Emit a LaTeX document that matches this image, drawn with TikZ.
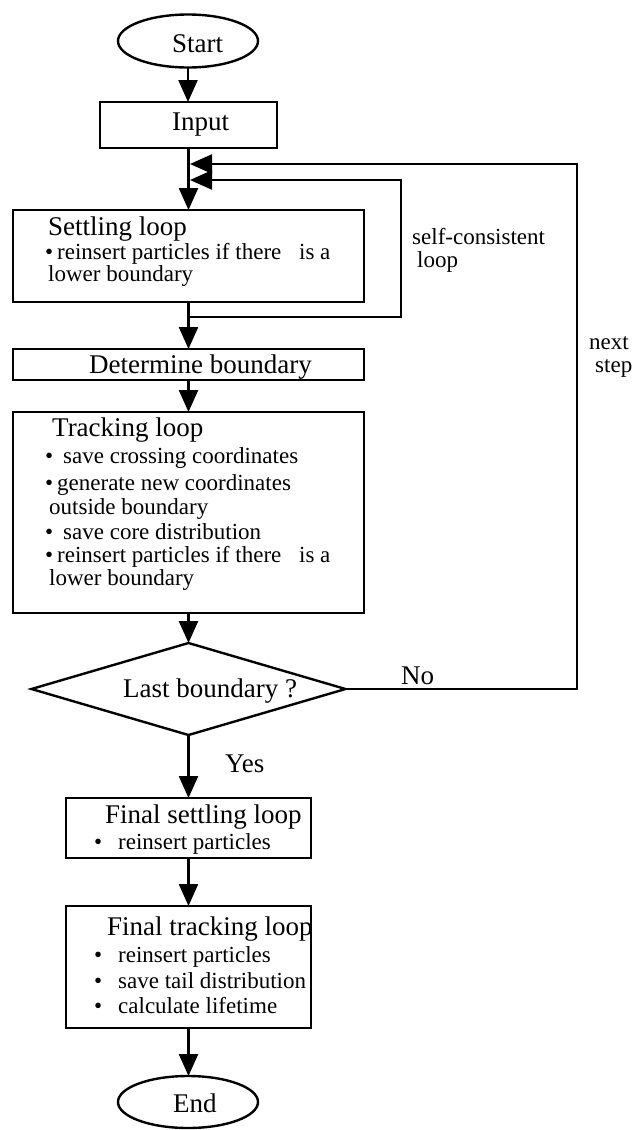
\documentclass[tikz,border=0pt]{standalone}
\usepackage{fontspec}
\setmainfont{Liberation Serif}
\usetikzlibrary{arrows.meta,shapes.geometric}
\begin{document}
\begin{tikzpicture}[x=1pt,y=-1pt,
  lw/.style={line width=2.4pt},
  arr/.style={lw,-{Triangle[length=22pt,width=19pt]}},
  boxnode/.style={draw,lw,rectangle,inner sep=0pt,outer sep=0pt,anchor=north},
  ovalnode/.style={draw,lw,ellipse,inner sep=0pt,outer sep=0pt,minimum width=140pt,minimum height=53pt},
  ttl/.style={font=\fontsize{27}{30}\selectfont,inner sep=0pt,anchor=base west},
  itm/.style={font=\fontsize{23}{26}\selectfont,inner sep=0pt,anchor=base west},
]
\useasboundingbox[fill=white] (0,0) rectangle (642,1130);

% shapes
\node[ovalnode] (start) at (188,41) {};
\node[boxnode,minimum width=177pt,minimum height=46pt] (input) at (188.5,102) {};
\node[boxnode,minimum width=351pt,minimum height=92pt] (settle) at (188.5,210) {};
\node[boxnode,minimum width=351pt,minimum height=31pt] (det) at (188.5,349) {};
\node[boxnode,minimum width=351pt,minimum height=201pt] (track) at (188.5,412) {};
\node[draw,lw,diamond,inner sep=0pt,outer sep=0pt,minimum width=314pt,minimum height=92pt,aspect=3.4] (dia) at (188.5,689) {};
\node[boxnode,minimum width=245pt,minimum height=60pt] (fset) at (188.5,798) {};
\node[boxnode,minimum width=245pt,minimum height=122pt] (ftrack) at (188.5,906) {};
\node[ovalnode,minimum height=52pt] (endn) at (188,1102) {};

% texts
\node[ttl] (tstart) at (172,52) {Start};
\node[ttl] (tinput) at (172,130) {Input};

\node[ttl] (ts0) at (48,235) {Settling loop};
\node[itm] (ts1b) at (45,259) {•};
\node[itm] (ts1) at (57,259) {reinsert particles if there\hspace{12pt} is a};
\node[itm] (ts2) at (48,281) {lower boundary};

\node[ttl] (tdet) at (89,373) {Determine boundary};

\node[ttl] (tt0) at (52,436) {Tracking loop};
\node[itm] (tt1b) at (45,463) {•};
\node[itm] (tt1) at (63,463) {save crossing coordinates};
\node[itm] (tt2b) at (45,490) {•};
\node[itm] (tt2) at (57,490) {generate new coordinates};
\node[itm] (tt3) at (49,514) {outside boundary};
\node[itm] (tt4b) at (45,539) {•};
\node[itm] (tt4) at (63,539) {save core distribution};
\node[itm] (tt5b) at (45,562) {•};
\node[itm] (tt5) at (57,562) {reinsert particles if there\hspace{12pt} is a};
\node[itm] (tt6) at (49,585) {lower boundary};

\node[ttl] (tdia) at (123,697) {Last boundary ?};
\node[ttl] (tno) at (401,684) {No};
\node[ttl] (tyes) at (225,772) {Yes};

\node[ttl] (tf0) at (105,823) {Final settling loop};
\node[itm] (tf1b) at (94,849) {•};
\node[itm] (tf1) at (118,849) {reinsert particles};

\node[ttl] (tg0) at (107,935) {Final tracking loop};
\node[itm] (tg1b) at (94,962) {•};
\node[itm] (tg1) at (118,962) {reinsert particles};
\node[itm] (tg2b) at (94,988) {•};
\node[itm] (tg2) at (118,988) {save tail distribution};
\node[itm] (tg3b) at (94,1013) {•};
\node[itm] (tg3) at (118,1013) {calculate lifetime};

\node[itm] (tsc1) at (412,244) {self-consistent};
\node[itm] (tsc2) at (417,267) {loop};
\node[itm] (tns1) at (589,349) {next};
\node[itm] (tns2) at (595,372) {step};

\node[ttl] (tend) at (173,1112) {End};

% connector corner points
\coordinate (scA) at (188.5,317);
\coordinate (scB) at (401,317);
\coordinate (scC) at (401,180);
\coordinate (scD) at (190,180);
\coordinate (nsA) at (577,689);
\coordinate (nsB) at (577,164);
\coordinate (nsD) at (190,164);

% connectors
\draw[arr] (start.south) -- (start.south |- input.north);
\draw[arr] (input.south) -- (settle.north);
\draw[arr] (settle.south) -- (scA) -- (scB) -- (scC) -- (scD);
\draw[arr] (settle.south) -- (det.north);
\draw[arr] (det.south) -- (track.north);
\draw[arr] (track.south) -- (dia.north);
\draw[arr] (dia.east) -- (nsA) -- (nsB) -- (nsD);
\draw[arr] (dia.south) -- (fset.north);
\draw[arr] (fset.south) -- (ftrack.north);
\draw[arr] (ftrack.south) -- (ftrack.south |- endn.north);
\end{tikzpicture}
\end{document}
